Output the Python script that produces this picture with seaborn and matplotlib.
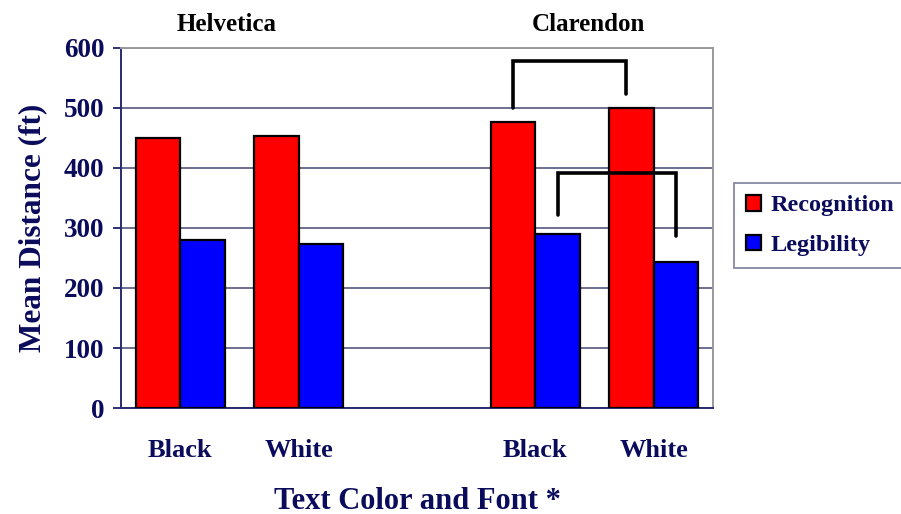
import matplotlib
matplotlib.use("Agg")
import matplotlib.pyplot as plt
import seaborn as sns
import pandas as pd

# Mean detection distances (ft) per font / text colour
fonts = ["Helvetica", "Helvetica", "Clarendon", "Clarendon"]
text_colors = ["Black", "White", "Black", "White"]
recognition = [450, 453, 476, 500]
legibility = [280, 273, 290, 243]
measures = ["Recognition", "Legibility"]
y_ticks = [0, 100, 200, 300, 400, 500, 600]

navy = "#0b0b5c"

sns.set_theme(style="white")
plt.rcParams["font.family"] = ["Liberation Serif", "DejaVu Serif"]
plt.rcParams["font.weight"] = "bold"

keys = [f"{f} {c}" for f, c in zip(fonts, text_colors)]
order = keys[:2] + ["gap"] + keys[2:]
tick_labels = text_colors[:2] + [""] + text_colors[2:]

df = pd.DataFrame({
    "group": keys * 2,
    "measure": [measures[0]] * 4 + [measures[1]] * 4,
    "value": recognition + legibility,
})

fig = plt.figure(figsize=(9.01, 5.14), dpi=100)
ax = fig.add_axes([121 / 901, 1 - 408 / 514, (713 - 121) / 901, (408 - 48) / 514])

sns.barplot(
    data=df, x="group", y="value", hue="measure", order=order,
    hue_order=measures, palette={"Recognition": "#ff0000", "Legibility": "#0000ff"},
    width=0.75, edgecolor="black", linewidth=1.6, saturation=1, errorbar=None,
    ax=ax, zorder=3,
)

ax.set_ylim(0, 600)
ax.set_xlim(-0.5, 4.5)
ax.set_yticks(y_ticks)
ax.set_yticklabels([str(t) for t in y_ticks], fontsize=19.5, fontweight="bold", color=navy)
ax.set_xticks(range(len(order)))
ax.set_xticklabels(tick_labels, fontsize=19, fontweight="bold", color=navy)
ax.tick_params(axis="x", length=0, pad=22)
ax.tick_params(axis="y", length=6, width=1.2, color=navy, direction="out", pad=6, left=True)

ax.yaxis.grid(True, color="#55557f", linewidth=1.2, zorder=0)
ax.set_axisbelow(True)
for side in ("top", "right"):
    ax.spines[side].set_color("#9a9a9a")
    ax.spines[side].set_linewidth(1.4)
for side in ("left", "bottom"):
    ax.spines[side].set_color("#2a2a70")
    ax.spines[side].set_linewidth(1.4)

ax.set_xlabel("Text Color and Font *", fontsize=22, fontweight="bold", color=navy, labelpad=18)
ax.set_ylabel("Mean Distance (ft)", fontsize=22.5, fontweight="bold", color=navy, labelpad=12)

# Font names above each pair of colours
ax.text(0.39, 1.066, "Helvetica", transform=ax.get_xaxis_transform(),
        ha="center", va="center", fontsize=18, fontweight="bold", color="black")
ax.text(3.45, 1.066, "Clarendon", transform=ax.get_xaxis_transform(),
        ha="center", va="center", fontsize=18, fontweight="bold", color="black")

# Significance brackets over the Clarendon bars
dodge = 0.75 / 4
ax.plot([3 - dodge, 3 - dodge, 4 - dodge - 0.05, 4 - dodge - 0.05],
        [500, 578, 578, 523], color="black", lw=2.6, zorder=5, clip_on=False,
        solid_joinstyle="miter")
ax.plot([3 + dodge, 3 + dodge, 4 + dodge, 4 + dodge],
        [322, 391, 391, 286], color="black", lw=2.6, zorder=5, clip_on=False,
        solid_joinstyle="miter")

handles, labels = ax.get_legend_handles_labels()
ax.get_legend().remove()
leg = fig.legend(
    handles, labels, loc="upper left", bbox_to_anchor=(734 / 901, 1 - 183 / 514),
    frameon=True, fancybox=False, shadow=False, handlelength=0.6, handleheight=0.6,
    handletextpad=0.4, borderpad=0.5, labelspacing=0.75, borderaxespad=0,
    prop={"family": ["Liberation Serif"], "weight": "bold", "size": 17.5},
)
leg.get_frame().set_edgecolor("#6a6a90")
leg.get_frame().set_linewidth(1.3)
for t in leg.get_texts():
    t.set_color(navy)
for h in leg.legend_handles:
    h.set_edgecolor("black")
    h.set_linewidth(1.6)

fig.savefig("out.png", dpi=100)
